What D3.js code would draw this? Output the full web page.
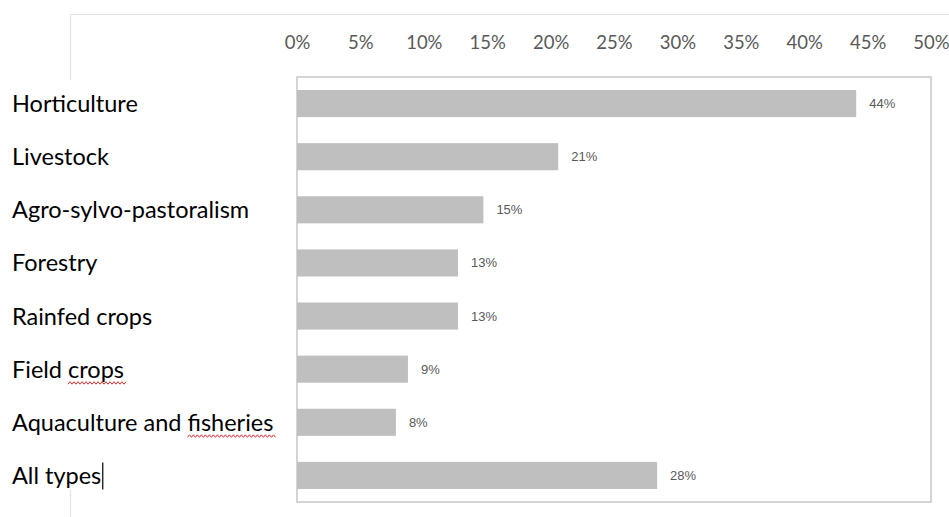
<!DOCTYPE html>
<html><head><meta charset="utf-8">
<script src="https://cdn.jsdelivr.net/npm/d3@7"></script>
<style>body{margin:0;background:#fff}svg{display:block}</style>
</head><body>
<svg id="c" width="949" height="517"></svg>
<script>
const categories = ["Horticulture","Livestock","Agro-sylvo-pastoralism","Forestry","Rainfed crops","Field crops","Aquaculture and fisheries","All types"];
const values = [0.441, 0.206, 0.147, 0.127, 0.127, 0.0875, 0.078, 0.284];
const tickValues = [0,0.05,0.10,0.15,0.20,0.25,0.30,0.35,0.40,0.45,0.50];
const misspelled = {"Field crops":"crops","Aquaculture and fisheries":"fisheries"};

const svg = d3.select("#c");
const m = {left:297, right:931, top:77, bottom:502};
const x = d3.scaleLinear().domain([0,0.5]).range([m.left,m.right]);
const y = d3.scaleBand().domain(categories).range([m.top,m.bottom]).paddingInner(0.49).paddingOuter(0.245);

// document frame lines
svg.append("path").attr("d",`M70.5,80 V14.5 H949`).attr("fill","none").attr("stroke","#e3e3e3").attr("stroke-width",1.2);
svg.append("path").attr("d",`M70.5,490 V517`).attr("fill","none").attr("stroke","#e3e3e3").attr("stroke-width",1.2);

// plot border
svg.append("rect").attr("x",m.left).attr("y",m.top).attr("width",m.right-m.left).attr("height",m.bottom-m.top)
  .attr("fill","none").attr("stroke","#c6c6c6").attr("stroke-width",1.5);

// top axis
const axis = d3.axisTop(x).tickValues(tickValues).tickFormat(d3.format(".0%")).tickSize(0).tickPadding(0);
const ag = svg.append("g").attr("transform","translate(0,49)").call(axis);
ag.select(".domain").remove();
ag.selectAll("text").attr("fill","#595959").attr("font-family","Lato, sans-serif").attr("font-size",18.5);

// bars
svg.append("g").selectAll("rect").data(categories).join("rect")
  .attr("x",x(0)).attr("y",d=>y(d)).attr("width",(d,i)=>x(values[i])-x(0)).attr("height",y.bandwidth())
  .attr("fill","#bfbfbf");

// value labels
svg.append("g").selectAll("text").data(categories).join("text")
  .attr("x",(d,i)=>x(values[i])+13).attr("y",d=>y(d)+y.bandwidth()/2).attr("dy","0.35em")
  .attr("fill","#595959").attr("font-family","'Liberation Sans Narrow', sans-serif").attr("font-size",13)
  .text((d,i)=>d3.format(".0%")(values[i]));

// category labels
const lab = svg.append("g").selectAll("text").data(categories).join("text")
  .attr("x",12).attr("y",d=>y(d)+y.bandwidth()/2+8.5)
  .attr("fill","#000").attr("font-family","Lato, sans-serif").attr("font-size",23.5)
  .text(d=>d);

// spelling squiggles and cursor
lab.each(function(d){
  const node = this, full = d;
  const base = y(d)+y.bandwidth()/2;
  if (misspelled[d]) {
    const w = misspelled[d];
    const start = full.indexOf(w);
    const x0 = 12 + node.getSubStringLength(0,start);
    const x1 = x0 + node.getSubStringLength(start,w.length) + 2;
    let p = `M${x0},${base+15}`;
    for (let xx=x0, k=0; xx<x1; xx+=2, k++) p += ` L${xx+2},${base+15+(k%2?0:-2.5)}`;
    svg.append("path").attr("d",p).attr("fill","none").attr("stroke","#e03030").attr("stroke-width",1);
  }
  if (d==="All types") {
    const xe = 12 + node.getComputedTextLength() + 1.5;
    svg.append("line").attr("x1",xe).attr("x2",xe).attr("y1",base-13).attr("y2",base+14).attr("stroke","#000").attr("stroke-width",1.2);
  }
});
</script>
</body></html>
